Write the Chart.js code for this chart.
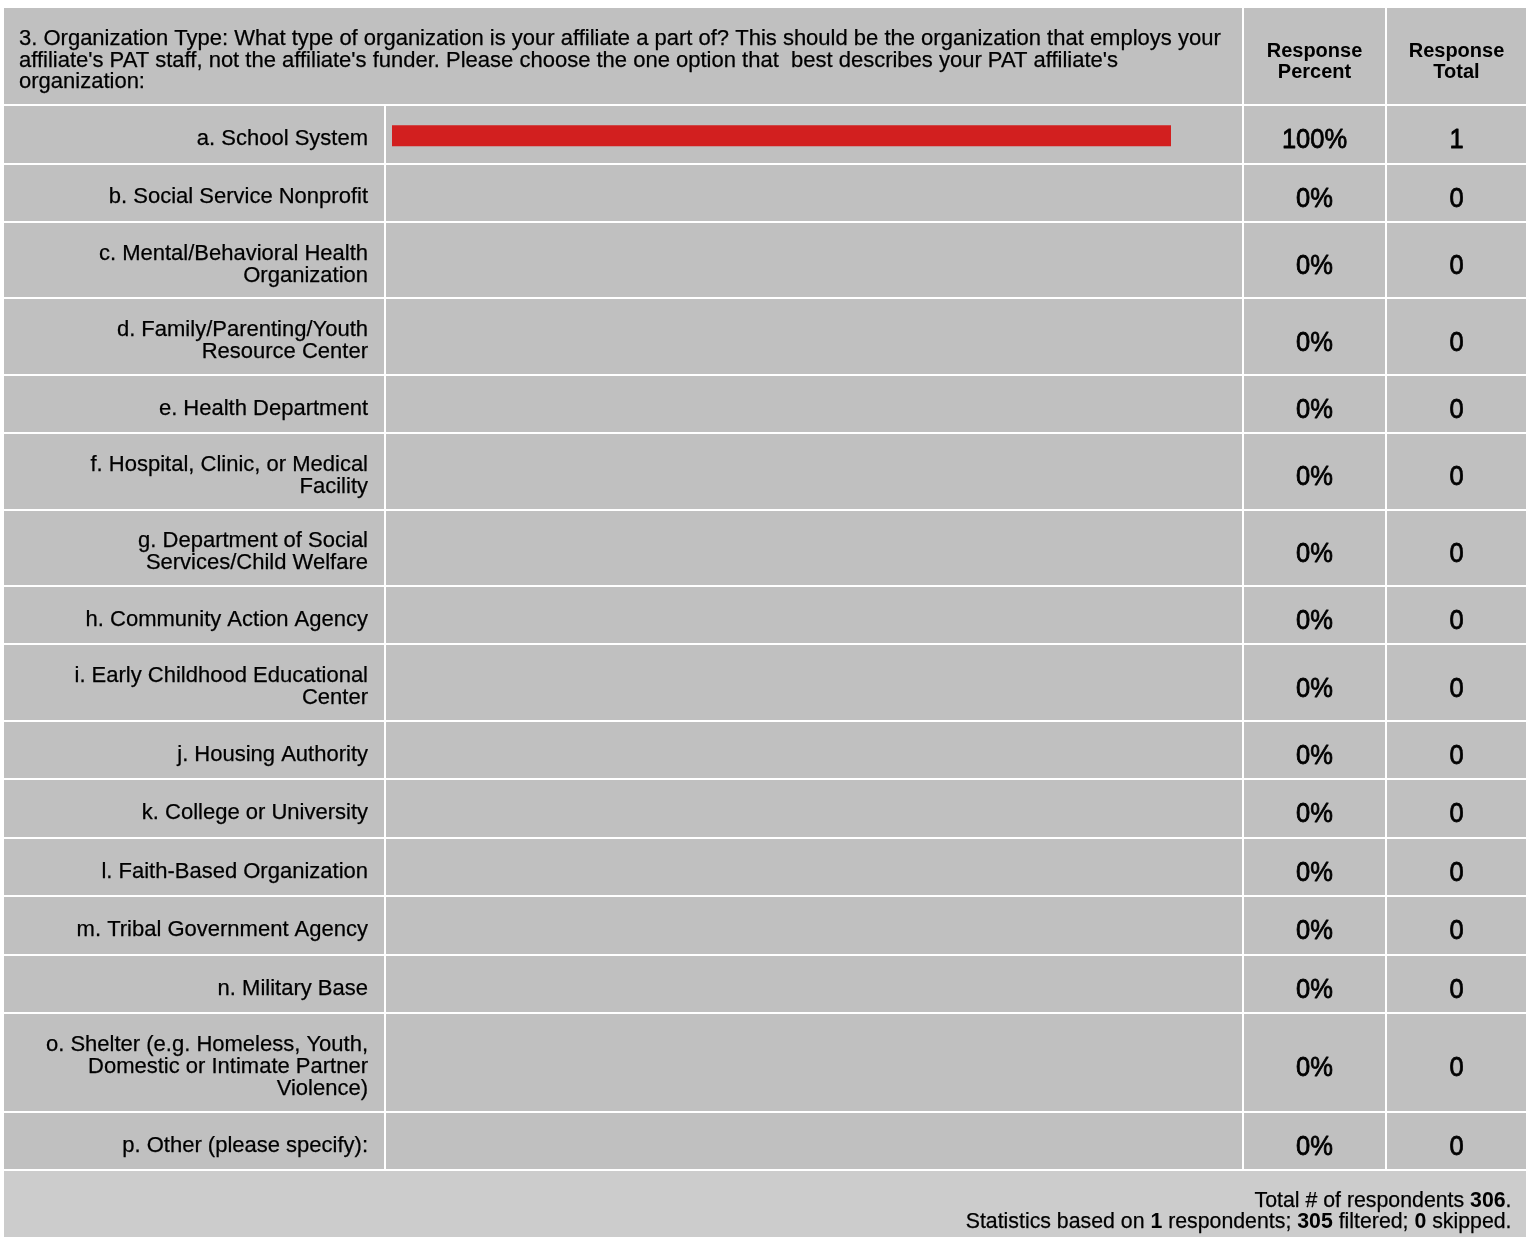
<!DOCTYPE html>
<html>
<head>
<meta charset="utf-8">
<script src="https://cdn.jsdelivr.net/npm/chart.js@4.4.1/dist/chart.umd.min.js"></script>
<style>
html,body{margin:0;padding:0;background:#ffffff;}
canvas{display:block;}
</style>
</head>
<body>
<canvas id="c" width="1526" height="1237"></canvas>
<script>
// ---------------- data ----------------
const questionLines = [
  "3. Organization Type: What type of organization is your affiliate a part of? This should be the organization that employs your",
  "affiliate's PAT staff, not the affiliate's funder. Please choose the one option that  best describes your PAT affiliate's",
  "organization:"
];
const headerPercent = ["Response", "Percent"];
const headerTotal = ["Response", "Total"];
const categories = [
  ["a. School System"],
  ["b. Social Service Nonprofit"],
  ["c. Mental/Behavioral Health", "Organization"],
  ["d. Family/Parenting/Youth", "Resource Center"],
  ["e. Health Department"],
  ["f. Hospital, Clinic, or Medical", "Facility"],
  ["g. Department of Social", "Services/Child Welfare"],
  ["h. Community Action Agency"],
  ["i. Early Childhood Educational", "Center"],
  ["j. Housing Authority"],
  ["k. College or University"],
  ["l. Faith-Based Organization"],
  ["m. Tribal Government Agency"],
  ["n. Military Base"],
  ["o. Shelter (e.g. Homeless, Youth,", "Domestic or Intimate Partner", "Violence)"],
  ["p. Other (please specify):"]
];
const responsePercent = [100, 0, 0, 0, 0, 0, 0, 0, 0, 0, 0, 0, 0, 0, 0, 0];
const responseTotal   = [1, 0, 0, 0, 0, 0, 0, 0, 0, 0, 0, 0, 0, 0, 0, 0];
const totalRespondents = 306;
const basedOnRespondents = 1;
const filteredCount = 305;
const skippedCount = 0;

// ---------------- layout ----------------
const W = 1526, H = 1237;
const TBL_L = 4, TBL_T = 8;
const HEAD_B = 104;
const COL1 = 384, COL2 = 1242, COL3 = 1385;
const LINE = 2;
const BAR_L = 392, BAR_R = 1171;
const FONT = "'Liberation Sans', Arial, Helvetica, sans-serif";
const GRAY = '#c0c0c0', FOOT_GRAY = '#cccccc', RED = '#d21f1f';

// row geometry (in canvas-pixel units of the y scale), derived from label line counts
const rows = [];
(function () {
  let y = HEAD_B;
  categories.forEach(lines => {
    const pitch = Math.max(58.5, 32.2 + 22.07 * lines.length);
    const top = y + LINE, bottom = y + pitch;
    rows.push({ top, bottom, center: (top + bottom) / 2 });
    y = bottom;
  });
  rows.endY = y;
})();

function txt(ctx, s, x, y, font, align, sx, stroke) {
  ctx.save();
  ctx.font = font;
  ctx.textAlign = align;
  ctx.textBaseline = 'alphabetic';
  ctx.fillStyle = '#000';
  ctx.translate(x, y);
  ctx.scale(sx || 1, 1);
  ctx.fillText(s, 0, 0);
  if (stroke) {
    ctx.strokeStyle = '#000';
    ctx.lineWidth = stroke;
    ctx.lineJoin = 'round';
    ctx.strokeText(s, 0, 0);
  }
  ctx.restore();
}

const tablePlugin = {
  id: 'surveyTable',
  beforeDraw(chart) {
    const ctx = chart.ctx;
    const ys = chart.scales.y;
    const py = v => ys.getPixelForValue(v);
    ctx.save();
    ctx.fillStyle = '#ffffff';
    ctx.fillRect(0, 0, W, H);
    const endY = Math.round(py(rows.endY));
    // table body
    ctx.fillStyle = GRAY;
    ctx.fillRect(TBL_L, py(TBL_T), W - TBL_L, endY - py(TBL_T));
    // footer
    ctx.fillStyle = FOOT_GRAY;
    ctx.fillRect(TBL_L, endY + LINE, W - TBL_L, H - endY - LINE);
    // white grid lines
    ctx.fillStyle = '#ffffff';
    ctx.fillRect(TBL_L, py(HEAD_B), W - TBL_L, LINE);
    rows.forEach(r => ctx.fillRect(TBL_L, Math.round(py(r.bottom)), W - TBL_L, LINE));
    ctx.fillRect(COL1, py(HEAD_B), LINE, endY - py(HEAD_B));
    ctx.fillRect(COL2, py(TBL_T), LINE, endY - py(TBL_T));
    ctx.fillRect(COL3, py(TBL_T), LINE, endY - py(TBL_T));
    ctx.restore();

    // header
    questionLines.forEach((s, i) => txt(ctx, s, 19, 45 + i * 21.6, '22px ' + FONT, 'left', 1, 0.25));
    const cP = (COL2 + LINE + COL3) / 2, cT = (COL3 + LINE + W) / 2;
    headerPercent.forEach((s, i) => txt(ctx, s, cP, 56.7 + i * 21, 'bold 20px ' + FONT, 'center'));
    headerTotal.forEach((s, i) => txt(ctx, s, cT, 56.7 + i * 21, 'bold 20px ' + FONT, 'center'));

    // rows
    rows.forEach((r, i) => {
      const lines = categories[i];
      const c = py(r.center);
      lines.forEach((s, k) => {
        const by = c + 10.7 + (k - (lines.length - 1) / 2) * 22;
        txt(ctx, s, 368, by, '22px ' + FONT, 'right', 1, 0.25);
      });
      txt(ctx, responsePercent[i] + '%', cP, c + 14, '28px ' + FONT, 'center', 0.91, 0.8);
      txt(ctx, String(responseTotal[i]), cT, c + 14, '28px ' + FONT, 'center', 0.91, 0.8);
    });

    // footer text (right aligned, mixed weight)
    const footLines = [
      [["Total # of respondents ", false], [String(totalRespondents), true], [".", false]],
      [["Statistics based on ", false], [String(basedOnRespondents), true], [" respondents; ", false],
       [String(filteredCount), true], [" filtered; ", false], [String(skippedCount), true], [" skipped.", false]]
    ];
    const fBase = [1206.7, 1227.7];
    const fs = '21.3px ';
    footLines.forEach((segs, li) => {
      ctx.save();
      let total = 0;
      segs.forEach(([s, b]) => { ctx.font = (b ? 'bold ' : '') + fs + FONT; total += ctx.measureText(s).width; });
      ctx.restore();
      let x = 1511.5 - total;
      segs.forEach(([s, b]) => {
        const f = (b ? 'bold ' : '') + fs + FONT;
        txt(ctx, s, x, fBase[li], f, 'left', 1, b ? 0 : 0.25);
        ctx.save(); ctx.font = f; x += ctx.measureText(s).width; ctx.restore();
      });
    });
  }
};

new Chart(document.getElementById('c').getContext('2d'), {
  type: 'bar',
  data: {
    datasets: [{
      data: responsePercent.map((v, i) => ({ x: v, y: rows[i].center + 1.5 })),
      backgroundColor: RED,
      borderWidth: 0,
      inflateAmount: 0,
      barThickness: 21
    }]
  },
  options: {
    indexAxis: 'y',
    responsive: false,
    animation: false,
    layout: { padding: { left: BAR_L, right: W - BAR_R, top: 0, bottom: 0 }, autoPadding: false },
    scales: {
      x: { type: 'linear', min: 0, max: 100, display: false, offset: false, grace: 0 },
      y: { type: 'linear', min: 0, max: H, reverse: true, display: false, offset: false, grace: 0, bounds: 'data' }
    },
    plugins: { legend: { display: false }, tooltip: { enabled: false } }
  },
  plugins: [tablePlugin]
});
</script>
</body>
</html>
